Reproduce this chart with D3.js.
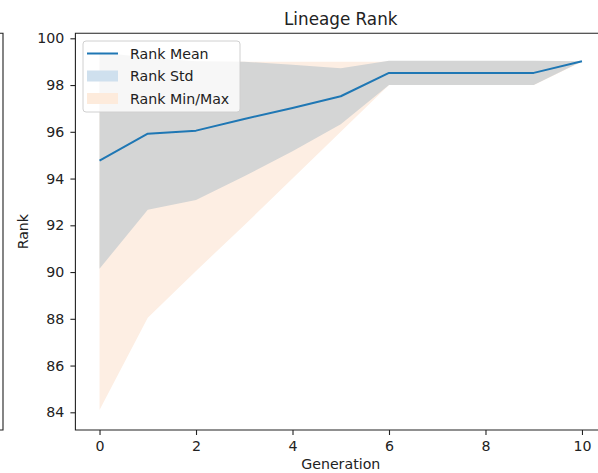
<!DOCTYPE html>
<html>
<head>
<meta charset="utf-8">
<script src="https://cdn.jsdelivr.net/npm/d3@7"></script>
<style>
  html, body { margin: 0; padding: 0; background: #fff; }
  svg { display: block; font-family: "DejaVu Sans", sans-serif; }
</style>
</head>
<body>
<svg id="chart" width="598" height="473"></svg>
<script>
// Per-generation rank statistics
const generations = [0, 1, 2, 3, 4, 5, 6, 7, 8, 9, 10];
const rankMean = [94.77, 95.92, 96.05, 96.55, 97.02, 97.52, 98.52, 98.52, 98.52, 98.52, 99.02];
const rankStd  = [4.63, 3.25, 2.97, 2.45, 1.85, 1.2, 0.52, 0.52, 0.52, 0.52, 0.0];
const rankMin  = [84.1, 88.05, 90.05, 92.0, 94.0, 96.0, 98.0, 98.0, 98.0, 98.0, 99.0];
const rankMax  = [99.0, 99.0, 99.0, 99.0, 99.0, 99.0, 99.0, 99.0, 99.0, 99.0, 99.0];
const xTicks = [0, 2, 4, 6, 8, 10];
const yTicks = [84, 86, 88, 90, 92, 94, 96, 98, 100];

const rows = generations.map((g, i) => ({
  g, mean: rankMean[i], std: rankStd[i], min: rankMin[i], max: rankMax[i]
}));

const svg = d3.select("#chart");
const plot = { left: 75.4, right: 606.1, top: 33.3, bottom: 430 };

const x = d3.scaleLinear().domain([-0.5, 10.5]).range([plot.left, plot.right]);
const y = d3.scaleLinear().domain([83.243, 100.214]).range([plot.bottom, plot.top]);

// Right spine of the neighbouring panel on the left (same row height)
svg.append("path")
  .attr("d", `M-5,${plot.top} H3 V${plot.bottom} H-5`)
  .attr("fill", "none").attr("stroke", "#222").attr("stroke-width", 1.1);

svg.append("defs").append("clipPath").attr("id", "plotclip")
  .append("rect").attr("x", plot.left).attr("y", plot.top)
  .attr("width", plot.right - plot.left).attr("height", plot.bottom - plot.top);

const g = svg.append("g").attr("clip-path", "url(#plotclip)");

// Min/Max band
g.append("path").datum(rows)
  .attr("fill", "#fdeee3")
  .attr("d", d3.area().x(d => x(d.g)).y0(d => y(d.min)).y1(d => y(d.max)));

// Std band
g.append("path").datum(rows)
  .attr("fill", "#d4d5d5")
  .attr("d", d3.area().x(d => x(d.g)).y0(d => y(d.mean - d.std)).y1(d => y(d.mean + d.std)));

// Mean line
g.append("path").datum(rows)
  .attr("fill", "none").attr("stroke", "#1f77b4").attr("stroke-width", 2)
  .attr("stroke-linejoin", "round")
  .attr("d", d3.line().x(d => x(d.g)).y(d => y(d.mean)));

// Axes
const fs = 14.2;
const xAxis = svg.append("g").attr("transform", `translate(0,${plot.bottom})`)
  .call(d3.axisBottom(x).tickValues(xTicks).tickSize(5).tickPadding(6).tickSizeOuter(0));
const yAxis = svg.append("g").attr("transform", `translate(${plot.left},0)`)
  .call(d3.axisLeft(y).tickValues(yTicks).tickSize(5).tickPadding(6).tickSizeOuter(0));
[xAxis, yAxis].forEach(a => {
  a.select(".domain").remove();
  a.selectAll(".tick line").attr("stroke", "#222").attr("stroke-width", 1.1);
  a.selectAll(".tick text").attr("fill", "#222").style("font-size", fs + "px")
    .style("font-family", "DejaVu Sans, sans-serif");
});

// Spines (left, top, bottom; right falls outside the view)
svg.append("path")
  .attr("d", `M${plot.right},${plot.top} H${plot.left} V${plot.bottom} H${plot.right}`)
  .attr("fill", "none").attr("stroke", "#222").attr("stroke-width", 1.1);

// Title and labels
svg.append("text").attr("x", (plot.left + plot.right) / 2).attr("y", 25)
  .attr("text-anchor", "middle").style("font-size", "16.8px").attr("fill", "#222")
  .text("Lineage Rank");
svg.append("text").attr("x", (plot.left + plot.right) / 2).attr("y", 469)
  .attr("text-anchor", "middle").style("font-size", fs + "px").attr("fill", "#222")
  .text("Generation");
svg.append("text").attr("transform", `translate(28,${(plot.top + plot.bottom) / 2}) rotate(-90)`)
  .attr("text-anchor", "middle").style("font-size", fs + "px").attr("fill", "#222")
  .text("Rank");

// Legend
const leg = svg.append("g").attr("transform", "translate(83,41)");
leg.append("rect").attr("width", 157).attr("height", 71).attr("rx", 3)
  .attr("fill", "#fff").attr("fill-opacity", 0.8).attr("stroke", "#d0d0d0");
const items = [
  { label: "Rank Mean", type: "line", color: "#1f77b4" },
  { label: "Rank Std", type: "patch", color: "#cfe0ee" },
  { label: "Rank Min/Max", type: "patch", color: "#fdebdc" }
];
items.forEach((it, i) => {
  const cy = 12.5 + i * 22.5;
  if (it.type === "line") {
    leg.append("line").attr("x1", 4).attr("x2", 35).attr("y1", cy).attr("y2", cy)
      .attr("stroke", it.color).attr("stroke-width", 2);
  } else {
    leg.append("rect").attr("x", 4).attr("y", cy - 5.5).attr("width", 31).attr("height", 11)
      .attr("fill", it.color);
  }
  leg.append("text").attr("x", 47).attr("y", cy + 5).style("font-size", fs + "px")
    .attr("fill", "#222").text(it.label);
});
</script>
</body>
</html>
